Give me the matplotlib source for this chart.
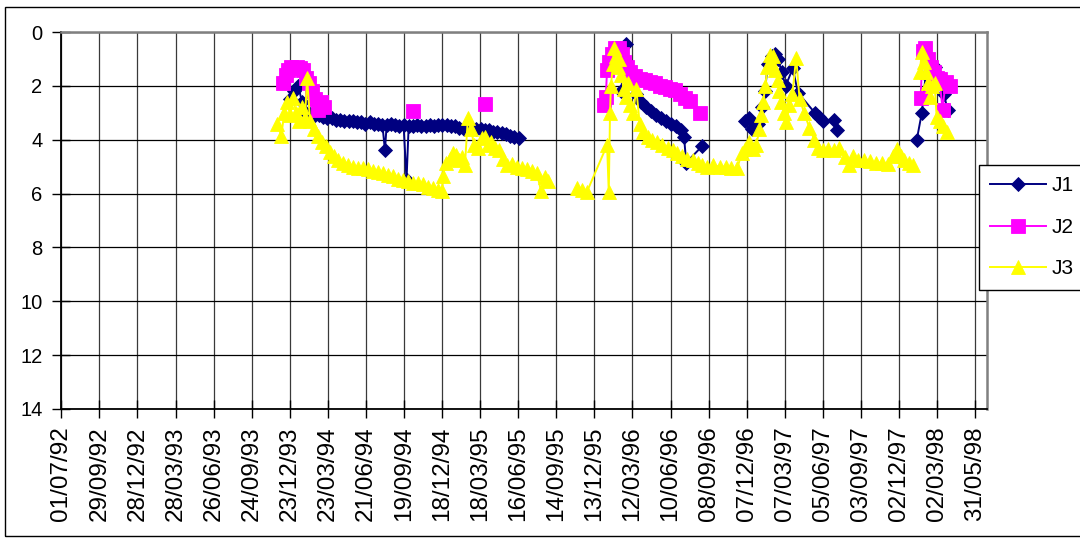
import numpy as np
import pandas as pd
import matplotlib
matplotlib.use("Agg")
import matplotlib.pyplot as plt
from matplotlib.patches import Rectangle

plt.rcParams['font.family'] = ['Liberation Sans', 'DejaVu Sans']

NA = np.nan

# ---------------- data ----------------
j1_dates = [
    "1993-12-24", "1994-01-02", "1994-01-12", "1994-01-21", "1994-01-31",
    "1994-02-10", "1994-02-20", "1994-03-02", "1994-03-12", "1994-03-22",
    "1994-04-01", "1994-04-11", "1994-04-21", "1994-05-01", "1994-05-11",
    "1994-05-21", "1994-05-31", "1994-06-10", "1994-06-20", "1994-06-30",
    "1994-07-10", "1994-07-20", "1994-07-30", "1994-08-05", "1994-08-09",
    "1994-08-19", "1994-08-29", "1994-09-08", "1994-09-18", "1994-09-25",
    "1994-09-30", "1994-10-10", "1994-10-20", "1994-10-30", "1994-11-09",
    "1994-11-19", "1994-11-29", "1994-12-09", "1994-12-19", "1994-12-29",
    "1995-01-08", "1995-01-18", "1995-01-28", "1995-02-07", "1995-02-17",
    "1995-02-27", "1995-03-09", "1995-03-19", "1995-03-29", "1995-04-08",
    "1995-04-18", "1995-04-28", "1995-05-08", "1995-05-18", "1995-05-28",
    "1995-06-07", "1995-06-17",
    "1995-10-01",
    "1996-02-14", "1996-02-26", "1996-03-08", "1996-03-20", "1996-04-01",
    "1996-04-13", "1996-04-25", "1996-05-06", "1996-05-18", "1996-05-30",
    "1996-06-11", "1996-06-23", "1996-07-05", "1996-07-12", "1996-07-17",
    "1996-08-23",
    "1996-10-15",
    "1996-12-03", "1996-12-12", "1996-12-19", "1996-12-26", "1997-01-02",
    "1997-01-12", "1997-01-19", "1997-01-26", "1997-02-04", "1997-02-11",
    "1997-02-19", "1997-02-28", "1997-03-09", "1997-03-26", "1997-04-07",
    "1997-05-17", "1997-05-26", "1997-06-05", "1997-07-01", "1997-07-08",
    "1997-10-01",
    "1998-01-13", "1998-01-25", "1998-02-03", "1998-02-12", "1998-02-26",
    "1998-03-08", "1998-03-18", "1998-03-27",
]
j1_values = [
    2.5, 2.2, 2.0, 2.6, 3.0,
    3.05, 3.1, 3.1, 3.15, 3.2,
    3.2, 3.25, 3.25, 3.3, 3.3,
    3.3, 3.35, 3.35, 3.4, 3.35,
    3.4, 3.4, 3.45, 4.4, 3.45,
    3.4, 3.45, 3.5, 3.45, 5.5,
    3.5, 3.5, 3.45, 3.5, 3.5,
    3.45, 3.5, 3.45, 3.45, 3.45,
    3.5, 3.5, 3.55, 3.6, 3.55,
    3.6, 3.6, 3.6, 3.65, 3.65,
    3.7, 3.7, 3.75, 3.8, 3.85,
    3.9, 3.95,
    NA,
    2.2, 0.45, 1.8, 2.3, 2.6,
    2.8, 2.95, 3.1, 3.2, 3.3,
    3.4, 3.5, 3.65, 3.9, 4.85,
    4.25,
    NA,
    3.3, 3.2, 3.6, 3.5, 3.4,
    2.8, 2.2, 1.2, 0.9, 0.8,
    1.0, 1.5, 2.0, 1.35, 2.25,
    3.0, 3.15, 3.3, 3.25, 3.65,
    NA,
    4.0, 3.0, 1.6, 1.1, 1.3,
    1.8, 2.3, 2.9,
]

j2_dates = [
    "1993-12-07", "1993-12-13", "1993-12-20", "1993-12-27", "1994-01-03",
    "1994-01-10", "1994-01-17", "1994-01-24", "1994-01-31", "1994-02-07",
    "1994-02-14", "1994-02-21", "1994-02-28", "1994-03-07", "1994-03-14",
    "1994-06-01",
    "1994-10-10",
    "1995-01-01",
    "1995-03-29",
    "1995-09-01",
    "1996-01-05", "1996-01-09", "1996-01-12", "1996-01-16", "1996-01-23",
    "1996-01-31", "1996-02-09", "1996-02-16", "1996-02-21", "1996-02-28",
    "1996-03-06", "1996-03-18", "1996-03-30", "1996-04-10", "1996-04-22",
    "1996-05-04", "1996-05-16", "1996-05-28", "1996-06-08", "1996-06-20",
    "1996-07-02", "1996-07-14", "1996-07-26",
    "1996-08-05",
    "1996-08-18",
    "1997-06-01",
    "1998-01-22", "1998-01-27", "1998-02-01", "1998-02-08", "1998-02-15",
    "1998-02-22", "1998-03-01", "1998-03-08", "1998-03-15", "1998-03-22",
    "1998-04-01",
]
j2_values = [
    1.9, 1.6, 1.4, 1.3, 1.35,
    1.3, 1.35, 1.4, 1.7, 1.9,
    2.2, 2.5, 2.9, 2.6, 2.8,
    NA,
    2.95,
    NA,
    2.67,
    NA,
    2.7, 2.4, 1.4, 1.1, 0.8,
    0.6, 0.6, 0.8, 1.1, 1.3,
    1.5, 1.65, 1.75, 1.8, 1.85,
    1.9, 2.0, 2.05, 2.1, 2.15,
    2.3, 2.45, 2.55,
    NA,
    3.0,
    NA,
    2.45, 0.7, 0.6, 1.0, 1.3,
    1.5, 1.7, 1.75, 2.9, 1.85,
    2.0,
]

j3_dates = [
    "1993-11-23", "1993-12-03", "1993-12-10", "1993-12-17", "1993-12-24",
    "1993-12-31", "1994-01-07", "1994-01-14", "1994-01-21", "1994-01-28",
    "1994-02-02", "1994-02-09", "1994-02-19", "1994-02-28", "1994-03-09",
    "1994-03-19", "1994-03-28", "1994-04-07", "1994-04-16", "1994-04-28",
    "1994-05-10", "1994-05-22", "1994-06-03", "1994-06-14", "1994-06-26",
    "1994-07-08", "1994-07-20", "1994-08-01", "1994-08-12", "1994-08-24",
    "1994-09-05", "1994-09-17", "1994-09-29", "1994-10-10", "1994-10-22",
    "1994-11-03", "1994-11-15", "1994-11-27", "1994-12-08", "1994-12-18",
    "1994-12-20", "1994-12-27", "1995-01-06", "1995-01-13", "1995-01-20",
    "1995-01-27", "1995-02-03", "1995-02-10", "1995-02-17", "1995-02-24",
    "1995-03-04", "1995-03-13", "1995-03-22", "1995-03-29", "1995-04-06",
    "1995-04-13", "1995-04-22", "1995-05-02", "1995-05-11", "1995-05-20",
    "1995-06-01", "1995-06-13", "1995-06-25", "1995-07-07", "1995-07-18",
    "1995-07-30", "1995-08-09", "1995-08-18", "1995-08-25",
    "1995-10-01",
    "1995-11-02", "1995-11-14", "1995-11-25", "1996-01-12", "1996-01-16",
    "1996-01-19", "1996-01-21", "1996-01-26", "1996-01-28", "1996-02-02",
    "1996-02-06", "1996-02-10", "1996-02-15", "1996-02-20", "1996-02-25",
    "1996-03-01", "1996-03-07", "1996-03-14", "1996-03-21", "1996-03-29",
    "1996-04-07", "1996-04-17", "1996-04-28", "1996-05-10", "1996-05-22",
    "1996-06-03", "1996-06-15", "1996-06-26", "1996-07-08", "1996-07-20",
    "1996-08-01", "1996-08-13", "1996-08-24", "1996-09-05", "1996-09-19",
    "1996-10-04", "1996-10-18", "1996-11-01", "1996-11-15", "1996-11-25",
    "1996-12-04", "1996-12-13", "1996-12-23", "1996-12-30", "1997-01-06",
    "1997-01-11", "1997-01-15", "1997-01-20", "1997-01-25", "1997-01-30",
    "1997-02-03", "1997-02-08", "1997-02-13", "1997-02-18", "1997-02-22",
    "1997-02-27", "1997-03-06", "1997-03-11", "1997-03-18", "1997-03-25",
    "1997-04-03", "1997-04-11", "1997-04-22", "1997-05-04", "1997-05-16",
    "1997-05-25", "1997-06-06", "1997-06-18", "1997-07-01", "1997-07-13",
    "1997-07-27", "1997-08-05", "1997-08-15", "1997-08-27", "1997-09-10",
    "1997-09-24", "1997-10-08", "1997-10-22", "1997-11-05", "1997-11-17",
    "1997-11-27", "1997-12-06", "1997-12-15", "1997-12-25", "1998-01-03",
    "1998-01-12",
    "1998-01-20", "1998-01-25", "1998-01-29", "1998-02-03", "1998-02-08",
    "1998-02-13", "1998-02-17", "1998-02-24", "1998-03-01", "1998-03-08",
    "1998-03-15", "1998-03-25",
]
j3_values = [
    3.4, 3.85, 3.0, 2.6, 3.1,
    2.45, 3.0, 3.3, 2.8, 3.2,
    1.7, 3.3, 3.6, 3.85, 4.1,
    4.25, 4.45, 4.6, 4.75, 4.85,
    4.95, 5.0, 5.05, 5.05, 5.1,
    5.15, 5.2, 5.25, 5.3, 5.35,
    5.45, 5.5, 5.55, 5.6, 5.6,
    5.65, 5.75, 5.8, 5.85, 5.9,
    5.35, 4.85, 4.7, 4.5, 4.55,
    4.75, 4.65, 4.95, 3.2, 3.6,
    4.2, 4.3, 3.95, 3.9, 4.2,
    4.1, 4.3, 4.4, 4.7, 4.95,
    4.9, 5.0, 5.05, 5.1, 5.15,
    5.25, 5.9, 5.4, 5.55,
    NA,
    5.8, 5.85, 5.95, 4.2, 5.95,
    3.0, 2.0, 1.2, 0.6, 0.9,
    1.3, 1.0, 1.6, 2.1, 2.4,
    1.9, 2.7, 3.0, 2.1, 3.4,
    3.7, 3.9, 4.0, 4.1, 4.2,
    4.3, 4.4, 4.5, 4.6, 4.7,
    4.75, 4.85, 4.95, 5.0, 4.95,
    5.0, 5.0, 5.05, 5.05, 4.5,
    4.35, 4.1, 4.35, 4.2, 3.6,
    3.1, 2.6, 2.0, 1.3, 0.85,
    1.1, 0.9, 1.4, 1.8, 2.2,
    2.6, 3.0, 3.35, 2.7, 2.3,
    0.95, 2.5, 3.0, 3.55, 4.0,
    4.3, 4.4, 4.35, 4.4, 4.3,
    4.65, 4.95, 4.6, 4.75, 4.75,
    4.8, 4.85, 4.85, 4.9, 4.6,
    4.35, 4.6, 4.75, 4.85, 4.95,
    NA,
    1.5, 0.75, 1.1, 1.5, 1.9,
    2.4, 2.0, 1.9, 3.15, 3.3,
    3.5, 3.7,
]

series_names = ["J1", "J2", "J3"]
series_colors = ["#000080", "#FF00FF", "#FFFF00"]
series_markers = ["D", "s", "^"]
marker_sizes = [7.6, 9.8, 10.5]

x_tick_labels = [
    "01/07/92", "29/09/92", "28/12/92", "28/03/93", "26/06/93", "24/09/93",
    "23/12/93", "23/03/94", "21/06/94", "19/09/94", "18/12/94", "18/03/95",
    "16/06/95", "14/09/95", "13/12/95", "12/03/96", "10/06/96", "08/09/96",
    "07/12/96", "07/03/97", "05/06/97", "03/09/97", "02/12/97", "02/03/98",
    "31/05/98",
]
x_min, x_max = "1992-07-01", "1998-06-28"
y_ticks = [0, 2, 4, 6, 8, 10, 12, 14]

# ---------------- figure ----------------
W, H = 1080, 539
fig = plt.figure(figsize=(W / 100, H / 100), dpi=100)
fig.patch.set_facecolor("white")

# outer chart border
fig.patches.append(Rectangle((5 / W, 1 - 536 / H), 1.2, (536 - 7) / H,
                             transform=fig.transFigure, fill=False,
                             edgecolor="black", linewidth=1.0))

left_px, right_px, top_px, bottom_px = 61.3, 987, 32, 409
ax = fig.add_axes([left_px / W, 1 - bottom_px / H,
                   (right_px - left_px) / W, (bottom_px - top_px) / H])

all_dates = [j1_dates, j2_dates, j3_dates]
all_vals = [j1_values, j2_values, j3_values]
handles = []
for dts, vals, col, mk, ms, name in zip(all_dates, all_vals, series_colors,
                                         series_markers, marker_sizes,
                                         series_names):
    x = pd.to_datetime(dts)
    ln, = ax.plot(x, vals, color=col, lw=1.4, marker=mk, ms=ms,
                  mfc=col, mec=col, mew=0.6, label=name, zorder=3,
                  clip_on=False)
    handles.append(ln)

ax.set_xlim(pd.Timestamp(x_min), pd.Timestamp(x_max))
ax.set_ylim(14, 0)

tick_pos = pd.to_datetime(x_tick_labels, format="%d/%m/%y")
ax.set_xticks(tick_pos)
ax.set_xticklabels(x_tick_labels, rotation=90, fontsize=17.5)
ax.set_yticks(y_ticks)
ax.set_yticklabels([str(v) for v in y_ticks], fontsize=14.5)

ax.tick_params(axis="x", direction="inout", length=13, width=1.0,
               pad=6, colors="black")
ax.tick_params(axis="y", direction="inout", length=13, width=1.0,
               pad=7, colors="black")

ax.grid(axis="y", color="black", lw=0.9, zorder=1)
ax.grid(axis="x", color="#3a3a3a", lw=0.9, zorder=1)
ax.set_axisbelow(True)

for side in ("top", "right"):
    ax.spines[side].set_color("#808080")
    ax.spines[side].set_linewidth(1.8)
for side in ("left", "bottom"):
    ax.spines[side].set_color("black")
    ax.spines[side].set_linewidth(1.3)

leg = ax.legend(handles=handles, labels=series_names, loc="upper left",
                bbox_to_anchor=(979 / W, 1 - 165 / H),
                bbox_transform=fig.transFigure, frameon=True,
                fancybox=False, edgecolor="black", framealpha=1,
                fontsize=15, handlelength=2.65, handletextpad=0.3,
                labelspacing=1.08, borderpad=0.55, borderaxespad=0,
                numpoints=1)
leg.get_frame().set_linewidth(1.0)
leg.set_zorder(10)

fig.savefig("out.png", dpi=100, facecolor="white")
